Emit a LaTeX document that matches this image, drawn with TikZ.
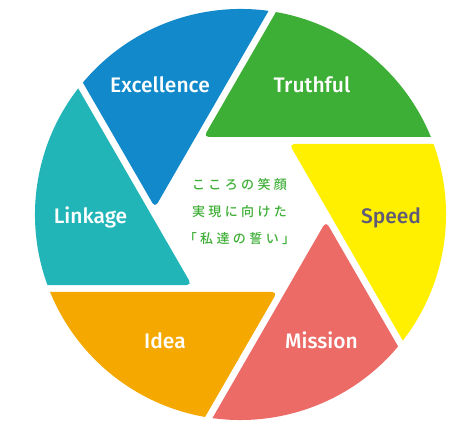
\documentclass[tikz,border=0pt]{standalone}
\usepackage{fontspec}
\setmainfont{Fira Sans}
\newfontfamily\lblfont{Fira Sans Medium}
\newfontfamily\jpfont{Noto Sans CJK JP Medium}
\definecolor{exblue}{HTML}{1289CA}
\definecolor{trgreen}{HTML}{3EAF36}
\definecolor{spyellow}{HTML}{FFF000}
\definecolor{mscoral}{HTML}{EC6B67}
\definecolor{idorange}{HTML}{F5A800}
\definecolor{lkteal}{HTML}{22B5B8}
\definecolor{spgray}{HTML}{5E5A78}

% letter-spaced Japanese line
\newcommand\jpsp[1]{\jpspA#1\relax}
\def\jpspA#1{#1\jpspB}
\def\jpspB#1{\ifx\relax#1\else\kern3.4pt#1\expandafter\jpspB\fi}

\tikzset{
  blade/.style={rounded corners=5pt},
  lbl/.style={font=\lblfont\fontsize{21}{25}\selectfont, text=white, anchor=base, inner sep=0pt},
  vow/.style={font=\jpfont\fontsize{13}{15}\selectfont, text=trgreen, anchor=base, inner sep=0pt}
}

\begin{document}
\begin{tikzpicture}[x=1pt, y=1pt]

% Background
\useasboundingbox (0,0) rectangle (475,427);
\fill[white] (0,0) rectangle (475,427);

% Blades of the aperture
\foreach \ang/\col in {0/trgreen, -60/spyellow, -120/mscoral, -180/idorange, -240/lkteal, -300/exblue} {
  \begin{scope}[shift={(240.5,212.5)}, rotate=\ang]
    \clip (0,0) circle (205.5);
    \fill[\col, blade] (-36.7,77.5) -- (260,77.5) -- (260,340) -- (113.3,337.3) -- cycle;
  \end{scope}
}

% Blade labels
\node[lbl] (excel) at (160,334) {Excellence};
\node[lbl] (truth) at (312,334) {Truthful};
\node[lbl] (link) at (90.5,203) {Linkage};
\node[lbl, text=spgray] (speed) at (391,203) {Speed};
\node[lbl] (idea) at (165,78) {Idea};
\node[lbl] (mission) at (321.5,78) {Mission};

% Centre text
\node[vow] (vow1) at (239.5,237.5) {\jpsp{こころの笑顔}};
\node[vow] (vow2) at (239.5,210.3) {\jpsp{実現に向けた}};
\node[vow] (vow3) at (239.5,183) {\jpsp{「私達の誓い」}};

\end{tikzpicture}
\end{document}
